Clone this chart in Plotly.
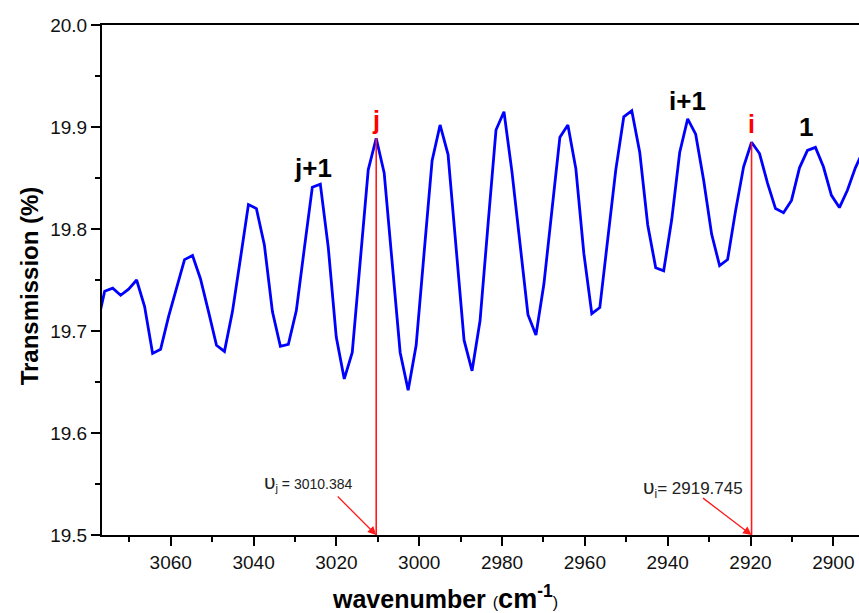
import plotly.graph_objects as go

# ---- data ----
wavenumber = [
    3077.88, 3075.95, 3074.02, 3072.10, 3070.17, 3068.24, 3066.31, 3064.38, 3062.45, 3060.53,
    3058.60, 3056.67, 3054.74, 3052.81, 3050.88, 3048.95, 3047.03, 3045.10, 3043.17, 3041.24,
    3039.31, 3037.38, 3035.45, 3033.53, 3031.60, 3029.67, 3027.74, 3025.81, 3023.88, 3021.96,
    3020.03, 3018.10, 3016.17, 3014.24, 3012.31, 3010.384, 3008.46, 3006.53, 3004.60, 3002.67,
    3000.74, 2998.81, 2996.89, 2994.96, 2993.03, 2991.10, 2989.17, 2987.24, 2985.31, 2983.39,
    2981.46, 2979.53, 2977.60, 2975.67, 2973.74, 2971.81, 2969.89, 2967.96, 2966.03, 2964.10,
    2962.17, 2960.24, 2958.32, 2956.39, 2954.46, 2952.53, 2950.60, 2948.67, 2946.74, 2944.82,
    2942.89, 2940.96, 2939.03, 2937.10, 2935.17, 2933.24, 2931.32, 2929.39, 2927.46, 2925.53,
    2923.60, 2921.67, 2919.745, 2917.82, 2915.89, 2913.96, 2912.03, 2910.10, 2908.17, 2906.25,
    2904.32, 2902.39, 2900.46, 2898.53, 2896.60, 2894.68, 2892.75,
]
transmission = [
    19.704, 19.739, 19.742, 19.735, 19.741, 19.750, 19.724, 19.678, 19.682, 19.714,
    19.742, 19.770, 19.774, 19.751, 19.719, 19.686, 19.680, 19.719, 19.771, 19.824,
    19.820, 19.784, 19.719, 19.685, 19.687, 19.720, 19.781, 19.841, 19.844, 19.782,
    19.694, 19.653, 19.679, 19.768, 19.858, 19.889, 19.855, 19.767, 19.679, 19.642,
    19.686, 19.777, 19.867, 19.902, 19.873, 19.782, 19.691, 19.661, 19.710, 19.804,
    19.897, 19.915, 19.856, 19.786, 19.716, 19.696, 19.746, 19.818, 19.890, 19.902,
    19.859, 19.776, 19.717, 19.723, 19.790, 19.858, 19.910, 19.916, 19.875, 19.804,
    19.762, 19.759, 19.809, 19.875, 19.908, 19.893, 19.848, 19.795, 19.764, 19.770,
    19.818, 19.861, 19.885, 19.874, 19.845, 19.820, 19.816, 19.828, 19.860, 19.877,
    19.880, 19.861, 19.833, 19.821, 19.838, 19.860, 19.877,
]

nu_j = 3010.384
nu_i = 2919.745
peak_labels = ["j+1", "i+1", "1"]
peak_label_x = [3025.7, 2935.1, 2906.6]
peak_label_y = [19.8595, 19.9255, 19.900]

x_range = [3076.6, 2893.8]
y_range = [19.5, 20.0]

FONT = "Liberation Sans, Arial, sans-serif"

fig = go.Figure()
fig.add_trace(go.Scatter(
    x=wavenumber, y=transmission, mode="lines",
    line=dict(color="#0000FF", width=2.8), showlegend=False, hoverinfo="skip",
))

y_j = transmission[wavenumber.index(nu_j)]
y_i = transmission[wavenumber.index(nu_i)]

# red vertical markers
for xv, yv in [(nu_j, y_j), (nu_i, y_i)]:
    fig.add_shape(type="line", x0=xv, x1=xv, y0=y_range[0], y1=yv,
                  xref="x", yref="y", line=dict(color="#FF1A1A", width=1.6), layer="above")

# red peak labels
for txt, xv, yv in [("j", nu_j, y_j), ("i", nu_i, y_i)]:
    fig.add_annotation(x=xv, y=yv, text="<b>%s</b>" % txt, showarrow=False,
                       yanchor="bottom", yshift=2,
                       font=dict(family=FONT, size=25, color="#FF0000"))

# black peak labels
for txt, xv, yv in zip(peak_labels, peak_label_x, peak_label_y):
    fig.add_annotation(x=xv, y=yv, text="<b>%s</b>" % txt, showarrow=False,
                       yanchor="middle",
                       font=dict(family=FONT, size=26, color="black"))

# value annotations with arrows
fig.add_annotation(x=nu_j, y=y_range[0], ax=-40, ay=-40, text="", showarrow=True,
                   arrowhead=2, arrowsize=1.3, arrowwidth=1.3, arrowcolor="#FF1A1A")
fig.add_annotation(x=nu_i, y=y_range[0], ax=-50, ay=-38, text="", showarrow=True,
                   arrowhead=2, arrowsize=1.3, arrowwidth=1.3, arrowcolor="#FF1A1A")

fig.add_annotation(x=3026.8, y=19.5517, showarrow=False, yanchor="middle",
                   text="<span style='font-size:21px'>υ</span><sub>j</sub>"
                        "<span style='font-size:14px'> = %.3f</span>" % nu_j,
                   font=dict(family=FONT, size=16, color="#222222"))
fig.add_annotation(x=2934.0, y=19.546, showarrow=False, yanchor="middle",
                   text="<span style='font-size:21px'>υ</span><sub>i</sub>"
                        "<span style='font-size:17px'>= %.3f</span>" % nu_i,
                   font=dict(family=FONT, size=17, color="#222222"))

# axis titles
fig.add_annotation(xref="paper", yref="paper", x=0.3012, y=-0.122,
                   xanchor="left", yanchor="middle", showarrow=False,
                   text="<b>wavenumber </b><span style='font-size:16px'>(</span>"
                        "<b><span style='font-size:27px'>cm</span><sup>-1</sup></b>"
                        "<span style='font-size:16px'>)</span>",
                   font=dict(family=FONT, size=25, color="black"))
fig.add_annotation(xref="paper", yref="paper", x=-0.0964, y=0.4876,
                   xanchor="center", yanchor="middle", showarrow=False, textangle=-90,
                   text="<b>Transmission (%)</b>",
                   font=dict(family=FONT, size=24, color="black"))

axis_common = dict(
    showgrid=False, zeroline=False, showline=True, linecolor="black", linewidth=2,
    ticks="outside", ticklen=9, tickwidth=2, tickcolor="black",
    tickfont=dict(family=FONT, size=19, color="#111111"),
)
fig.update_xaxes(range=x_range, dtick=20, tick0=2900, mirror=True,
                 minor=dict(ticks="outside", ticklen=5, tickwidth=2, tickcolor="black", dtick=10),
                 **axis_common)
fig.update_yaxes(range=y_range, dtick=0.1, tick0=19.5, tickformat=".1f",
                 minor=dict(ticks="outside", ticklen=5, tickwidth=2, tickcolor="black", dtick=0.05),
                 **axis_common)

fig.update_layout(
    width=859, height=613,
    margin=dict(l=102, r=0, t=25, b=78, autoexpand=False),
    paper_bgcolor="white", plot_bgcolor="white",
    font=dict(family=FONT),
)

fig.write_html(
    "out.html",
    config={"displayModeBar": False},
    post_script="document.body.style.margin='0';document.body.style.overflow='hidden';"
                "document.documentElement.style.overflow='hidden';",
)
